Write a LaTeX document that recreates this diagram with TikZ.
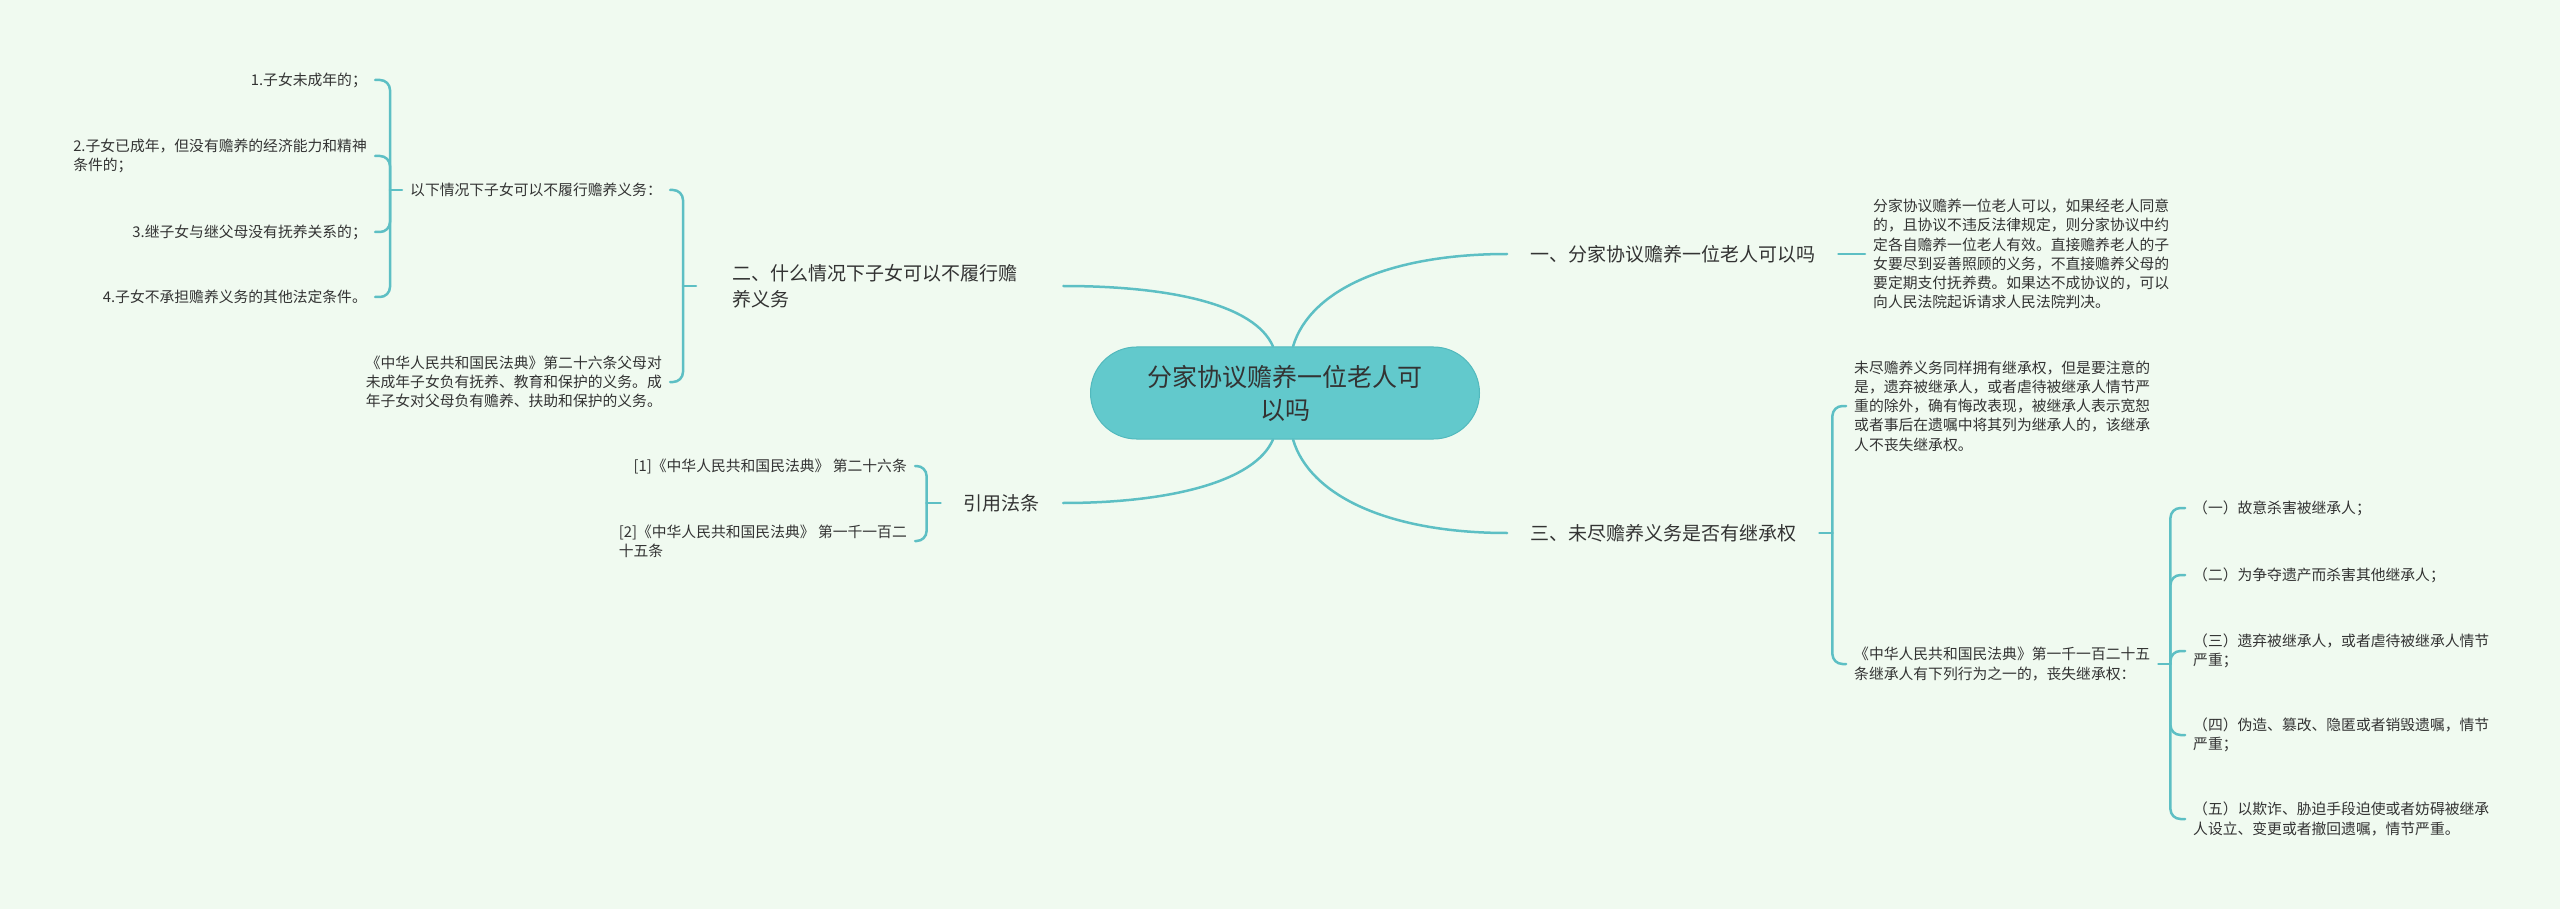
\documentclass[tikz,border=0pt]{standalone}
\usepackage{fontspec}
\setmainfont{Noto Sans CJK SC}
\definecolor{mmbg}{HTML}{F0FAF0}
\definecolor{mmline}{HTML}{5DBFC4}
\definecolor{mmrootfill}{HTML}{62C9CC}
\definecolor{mmrootedge}{HTML}{52B9BD}
\definecolor{mmtext}{HTML}{333333}
\tikzset{
  mmlink/.style={draw=mmline, line width=2.5pt, line cap=round},
  mmbrace/.style={mmlink, rounded corners=10pt},
  mmroot/.style={fill=mmrootfill, draw=mmrootedge, line width=1pt, rounded corners=46pt, minimum width=389pt, minimum height=92pt, align=center, text=mmtext, font=\fontsize{25}{33}\selectfont},
  mmbranch/.style={inner xsep=23pt, inner ysep=3pt, align=left, text=mmtext, font=\fontsize{19}{26}\selectfont},
  mmleaf/.style={inner xsep=8pt, inner ysep=2pt, align=left, text=mmtext, font=\fontsize{14.8}{19.2}\selectfont},
}
\begin{document}
\begin{tikzpicture}[x=1pt,y=-1pt]
\fill[mmbg] (0,0) rectangle (2560,909);
\node[mmroot] (root) at (1285,393) {分家协议赡养一位老人可\\以吗};
\node[mmbranch, anchor=west] (b1) at (1507,254) {一、分家协议赡养一位老人可以吗};
\node[mmbranch, anchor=west, inner xsep=36pt] (b2) at (696,286) {二、什么情况下子女可以不履行赡\\养义务};
\node[mmbranch, anchor=west] (b3) at (1507,533) {三、未尽赡养义务是否有继承权};
\node[mmbranch, anchor=east] (b4) at (1063,503) {引用法条};

\node[mmleaf, anchor=west] (p1) at (1865,254) {分家协议赡养一位老人可以，如果经老人同意\\的，且协议不违反法律规定，则分家协议中约\\定各自赡养一位老人有效。直接赡养老人的子\\女要尽到妥善照顾的义务，不直接赡养父母的\\要定期支付抚养费。如果达不成协议的，可以\\向人民法院起诉请求人民法院判决。};

\node[mmleaf, anchor=west] (q1) at (1846,406) {未尽赡养义务同样拥有继承权，但是要注意的\\是，遗弃被继承人，或者虐待被继承人情节严\\重的除外，确有悔改表现，被继承人表示宽恕\\或者事后在遗嘱中将其列为继承人的，该继承\\人不丧失继承权。};
\node[mmleaf, anchor=west] (q2) at (1846,664) {《中华人民共和国民法典》第一千一百二十五\\条继承人有下列行为之一的，丧失继承权：};
\node[mmleaf, anchor=west] (r1) at (2185,508) {（一）故意杀害被继承人；};
\node[mmleaf, anchor=west] (r2) at (2185,575) {（二）为争夺遗产而杀害其他继承人；};
\node[mmleaf, anchor=west] (r3) at (2185,651) {（三）遗弃被继承人，或者虐待被继承人情节\\严重；};
\node[mmleaf, anchor=west] (r4) at (2185,735) {（四）伪造、篡改、隐匿或者销毁遗嘱，情节\\严重；};
\node[mmleaf, anchor=west] (r5) at (2185,819) {（五）以欺诈、胁迫手段迫使或者妨碍被继承\\人设立、变更或者撤回遗嘱，情节严重。};

\node[mmleaf, anchor=east] (c1) at (670,190) {以下情况下子女可以不履行赡养义务：};
\node[mmleaf, anchor=east] (c2) at (670,382) {《中华人民共和国民法典》第二十六条父母对\\未成年子女负有抚养、教育和保护的义务。成\\年子女对父母负有赡养、扶助和保护的义务。};
\node[mmleaf, anchor=east] (d1) at (375,80) {1.子女未成年的；};
\node[mmleaf, anchor=east] (d2) at (375,156) {2.子女已成年，但没有赡养的经济能力和精神\\条件的；};
\node[mmleaf, anchor=east] (d3) at (375,232) {3.继子女与继父母没有抚养关系的；};
\node[mmleaf, anchor=east] (d4) at (375,297) {4.子女不承担赡养义务的其他法定条件。};

\node[mmleaf, anchor=east] (e1) at (915,466) {[1]《中华人民共和国民法典》 第二十六条};
\node[mmleaf, anchor=east] (e2) at (915,541) {[2]《中华人民共和国民法典》 第一千一百二\\十五条};

\draw[mmlink] ([xshift=8pt]root.north) .. controls +(17,-57) and +(-117,0) .. (b1.west);
\draw[mmlink] ([xshift=-12pt]root.north) .. controls +(-18,-42) and +(107,0) .. ([xshift=10pt]b2.east);
\draw[mmlink] ([xshift=-12pt]root.south) .. controls +(-18,42) and +(107,0) .. (b4.east);
\draw[mmlink] ([xshift=8pt]root.south) .. controls +(17,57) and +(-117,0) .. (b3.west);

\draw[mmlink] (b1.east) -- (p1.west);

\coordinate (j2) at ([xshift=-13pt]b2.west);
\draw[mmlink] (b2.west) -- (j2);
\draw[mmbrace] (j2) |- (c1.east);
\draw[mmbrace] (j2) |- (c2.east);

\coordinate (jc1) at ([xshift=-12pt]c1.west);
\draw[mmlink] (c1.west) -- (jc1);
\foreach \n in {d1,d2,d3,d4}
  \draw[mmbrace] (jc1) |- (\n.east);

\coordinate (j3) at ([xshift=13pt]b3.east);
\draw[mmlink] (b3.east) -- (j3);
\draw[mmbrace] (j3) |- (q1.west);
\draw[mmbrace] (j3) |- (q2.west);

\coordinate (jq2) at ([xshift=12pt]q2.east);
\draw[mmlink] (q2.east) -- (jq2);
\foreach \n in {r1,r2,r3,r4,r5}
  \draw[mmbrace] (jq2) |- (\n.west);

\coordinate (j4) at ([xshift=-14pt]b4.west);
\draw[mmlink] (b4.west) -- (j4);
\draw[mmbrace] (j4) |- (e1.east);
\draw[mmbrace] (j4) |- (e2.east);
\end{tikzpicture}
\end{document}
